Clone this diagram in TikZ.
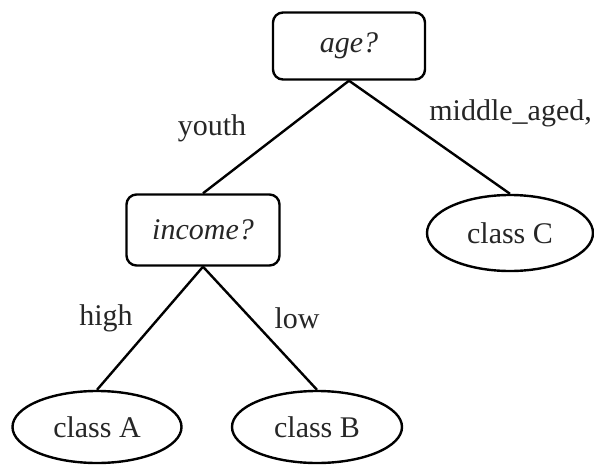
\documentclass[tikz,border=0pt]{standalone}
\usepackage{fontspec}
\setmainfont{Liberation Serif}
\usetikzlibrary{shapes.geometric}
\begin{document}
\begin{tikzpicture}[x=0.5pt,y=-0.5pt,
  every node/.style={font=\fontsize{15}{18}\selectfont, text=black!85},
  testbox/.style={draw=black, line width=1.2pt, rounded corners=5pt, inner sep=0pt, font=\fontsize{15}{18}\selectfont\itshape},
  leaf/.style={draw=black, line width=1.2pt, ellipse, inner sep=0pt},
  edge/.style={draw=black, line width=1.2pt},
  lbl/.style={inner sep=0pt}]
\useasboundingbox (0,0) rectangle (594,466);
\node[testbox, minimum width=76pt, minimum height=33.5pt] (age) at (349,46) {age?};
\node[testbox, minimum width=76.5pt, minimum height=35.5pt] (income) at (203,230) {income?};
\node[leaf, minimum width=83pt, minimum height=38pt] (C) at (510,233) {class C};
\node[leaf, minimum width=84.5pt, minimum height=36pt] (A) at (97,427) {class A};
\node[leaf, minimum width=85pt, minimum height=36pt] (B) at (317,427) {class B};
\draw[edge] (age.south) -- (income.north);
\draw[edge] (age.south) -- (C.north);
\draw[edge] (income.south) -- (A.north);
\draw[edge] (income.south) -- (B.north);
\node[lbl] (ly) at (212,128) {youth};
\node[lbl, anchor=west] (lm) at (429,113) {middle\_aged,};
\node[lbl] (lh) at (106,318) {high};
\node[lbl] (ll) at (297,318) {low};
\end{tikzpicture}
\end{document}
